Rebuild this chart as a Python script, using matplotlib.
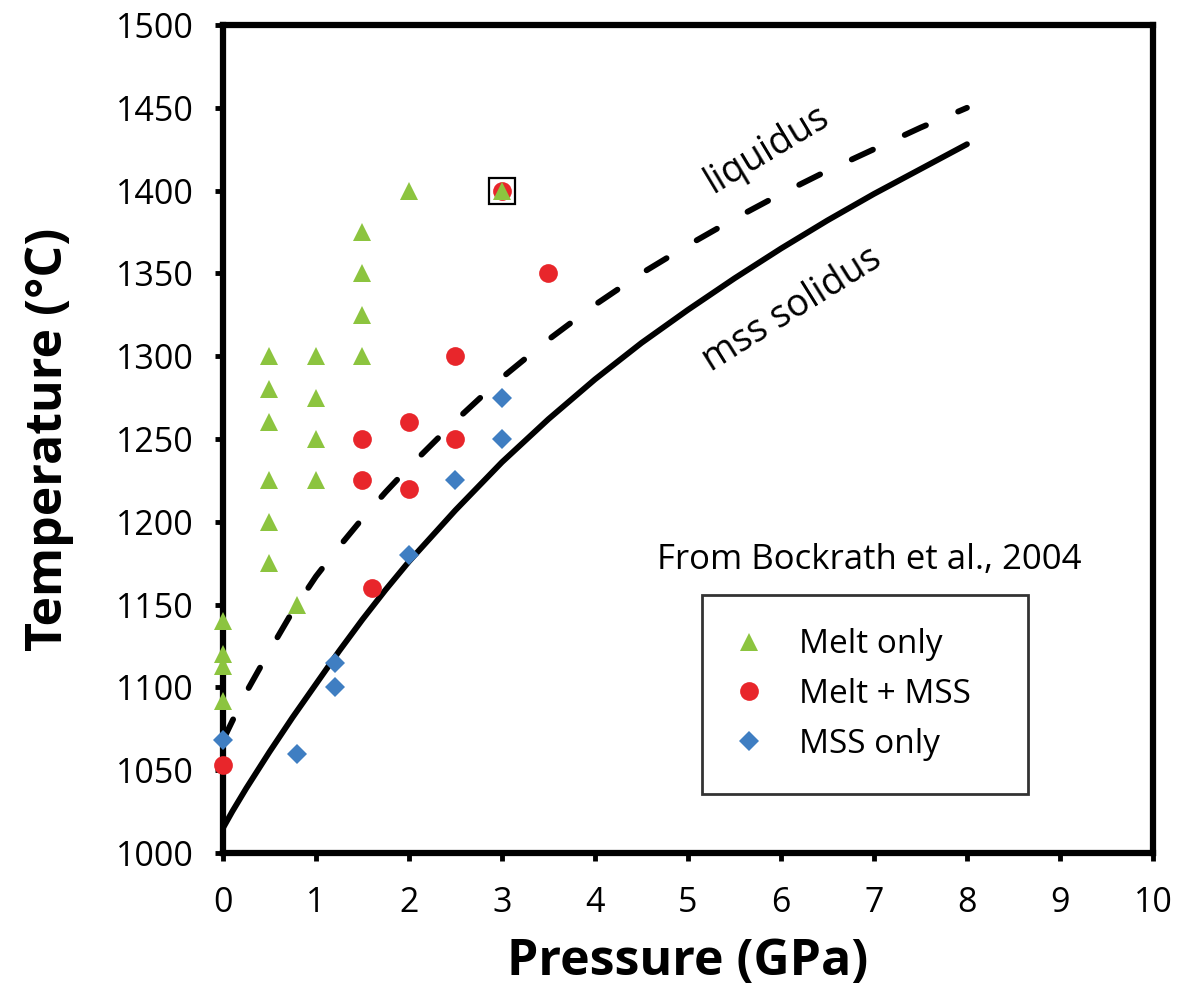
import matplotlib
matplotlib.use("Agg")
from matplotlib import pyplot as plt

# Plot style: Open Sans everywhere, heavy black frame.
matplotlib.rcParams["font.family"] = "Open Sans"
matplotlib.rcParams["axes.linewidth"] = 4.5

# Run conditions (P in GPa, T in deg C), grouped by run products.
melt_p = [0, 0, 0, 0, 0.5, 0.5, 0.5, 0.5, 0.5, 0.5, 0.8,
          1, 1, 1, 1, 1.5, 1.5, 1.5, 1.5, 2, 3]
melt_t = [1140, 1120, 1113, 1092, 1300, 1280, 1260, 1225, 1200, 1175, 1150,
          1300, 1275, 1250, 1225, 1375, 1350, 1325, 1300, 1400, 1400]

mix_p = [0, 1.5, 1.5, 1.6, 2, 2, 2.5, 2.5, 3, 3.5]
mix_t = [1053, 1250, 1225, 1160, 1260, 1220, 1300, 1250, 1400, 1350]

mss_p = [0, 0.8, 1.2, 1.2, 2, 2.5, 3, 3]
mss_t = [1068, 1060, 1115, 1100, 1180, 1225, 1275, 1250]

# The boxed run
boxed_p = [3]
boxed_t = [1400]

# Phase boundaries
solidus_p = [0, 0.1, 0.25, 0.5, 0.75, 1.0, 1.25, 1.5, 1.75, 2.0, 2.5,
             3.0, 3.5, 4.0, 4.5, 5.0, 5.5, 6.0, 6.5, 7.0, 7.5, 8.0]
solidus_t = [1015, 1025, 1039, 1061, 1082, 1102, 1122, 1141, 1159, 1176, 1207,
             1236, 1262, 1286, 1308, 1328, 1347, 1365, 1382, 1398, 1413, 1428]

liquidus_p = [0, 0.25, 0.5, 0.75, 1.0, 1.25, 1.5, 1.75, 2.0, 2.5, 3.0,
              3.5, 4.0, 4.5, 5.0, 5.5, 6.0, 6.5, 7.0, 7.5, 8.0]
liquidus_t = [1068, 1097, 1122, 1146, 1167, 1185, 1202, 1218, 1233, 1261, 1287,
              1310, 1331, 1350, 1367, 1383, 1398, 1412, 1425, 1438, 1450]

green = "#8CC43F"
red = "#E8262B"
blue = "#3F7EC2"

fig = plt.figure(figsize=(11.84, 9.96), dpi=100)
ax = fig.add_axes([0.1883, 0.1436, 0.7855, 0.8313])

ax.plot(solidus_p, solidus_t, color="black", lw=4.2, solid_capstyle="round",
        solid_joinstyle="round", zorder=3)
ax.plot(liquidus_p, liquidus_t, color="black", lw=4.2, dashes=(4, 6),
        dash_capstyle="round", dash_joinstyle="round", zorder=3)

ax.plot(boxed_p, boxed_t, "s", ms=19, mfc="none", mec="black", mew=1.6, zorder=4)
ax.plot(mss_p, mss_t, "D", ms=10.5, color=blue, mew=0, clip_on=False, zorder=5,
        label="MSS only")
ax.plot(mix_p, mix_t, "o", ms=13.5, color=red, mew=0, clip_on=False, zorder=6,
        label="Melt + MSS")
ax.plot(melt_p, melt_t, "^", ms=13.5, color=green, mew=0, clip_on=False, zorder=7,
        label="Melt only")

ax.set_xlim(0, 10)
ax.set_ylim(1000, 1500)
ax.set_xticks(range(0, 11))
ax.set_yticks(range(1000, 1501, 50))
ax.tick_params(direction="out", length=6, width=3.5, labelsize=24.5, pad=15,
               top=False, right=False)
ax.tick_params(axis="x", pad=18)

ax.set_xlabel("Pressure (GPa)", fontsize=36, fontweight="bold", labelpad=12)
ax.set_ylabel("Temperature (°C)", fontsize=36, fontweight="bold", labelpad=30)

ax.text(5.85, 1425, "liquidus", fontsize=27, rotation=31,
        ha="center", va="center", rotation_mode="anchor")
ax.text(6.12, 1328, "mss solidus", fontsize=27, rotation=32,
        ha="center", va="center", rotation_mode="anchor")
ax.text(0.695, 0.354, "From Bockrath et al., 2004", transform=ax.transAxes,
        fontsize=25, ha="center", va="center")

handles, labels = ax.get_legend_handles_labels()
leg = ax.legend(handles[::-1], labels[::-1], loc="upper left",
                bbox_to_anchor=(0.515, 0.0725, 0.3505, 0.2391), mode="expand",
                borderaxespad=0, fontsize=24, frameon=True, fancybox=False,
                edgecolor="black", borderpad=1.0, labelspacing=0.5,
                handlelength=0.8, handletextpad=1.1)
leg.get_frame().set_linewidth(2)

plt.savefig("out.png", dpi=100)
